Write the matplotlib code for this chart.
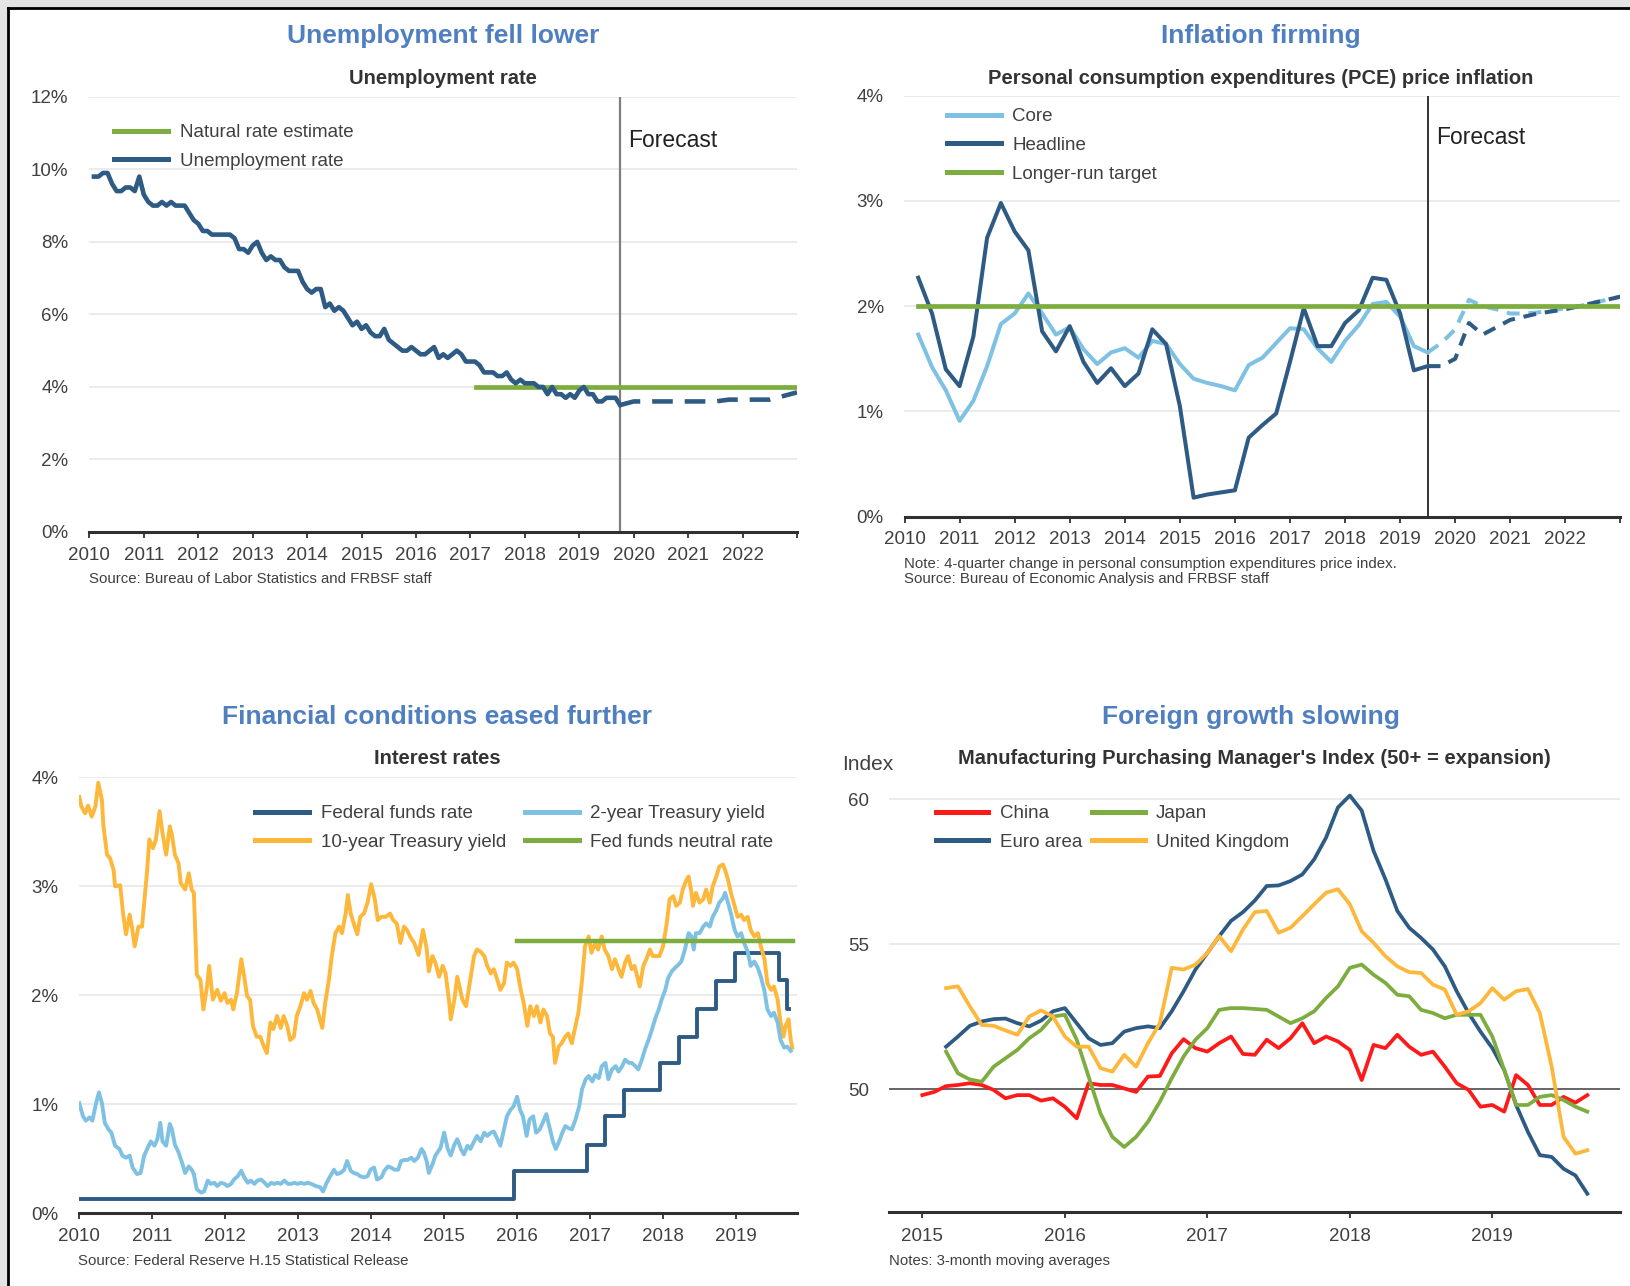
import numpy as np
import matplotlib.pyplot as plt
from matplotlib.ticker import FuncFormatter
from matplotlib.patches import Rectangle
from matplotlib.lines import Line2D

plt.rcParams['font.family'] = ['Liberation Sans', 'DejaVu Sans']

# ---------------- data ----------------
# unemployment rate, monthly Jan 2010 - Sep 2019 (%)
unemp = [9.8, 9.8, 9.9, 9.9, 9.6, 9.4, 9.4, 9.5, 9.5, 9.4, 9.8, 9.3,
         9.1, 9.0, 9.0, 9.1, 9.0, 9.1, 9.0, 9.0, 9.0, 8.8, 8.6, 8.5,
         8.3, 8.3, 8.2, 8.2, 8.2, 8.2, 8.2, 8.1, 7.8, 7.8, 7.7, 7.9,
         8.0, 7.7, 7.5, 7.6, 7.5, 7.5, 7.3, 7.2, 7.2, 7.2, 6.9, 6.7,
         6.6, 6.7, 6.7, 6.2, 6.3, 6.1, 6.2, 6.1, 5.9, 5.7, 5.8, 5.6,
         5.7, 5.5, 5.4, 5.4, 5.6, 5.3, 5.2, 5.1, 5.0, 5.0, 5.1, 5.0,
         4.9, 4.9, 5.0, 5.1, 4.8, 4.9, 4.8, 4.9, 5.0, 4.9, 4.7, 4.7,
         4.7, 4.6, 4.4, 4.4, 4.4, 4.3, 4.3, 4.4, 4.2, 4.1, 4.2, 4.1,
         4.1, 4.1, 4.0, 4.0, 3.8, 4.0, 3.8, 3.8, 3.7, 3.8, 3.7, 3.9,
         4.0, 3.8, 3.8, 3.6, 3.6, 3.7, 3.7, 3.7, 3.5]
unemp_fc_dates = [2019.75, 2020.0, 2020.25, 2020.5, 2020.75, 2021.0, 2021.25,
                  2021.5, 2021.75, 2022.0, 2022.25, 2022.5, 2022.75, 2023.0]
unemp_fc = [3.5, 3.6, 3.6, 3.6, 3.6, 3.6, 3.6, 3.6, 3.65, 3.65, 3.65, 3.65, 3.75, 3.85]
natural_rate = 4.0
natural_span = [2017.1, 2023.0]
unemp_forecast_start = 2019.74

# PCE inflation, quarterly from 2010Q2 (%)
headline = [2.27, 1.93, 1.40, 1.24, 1.71, 2.65, 2.98, 2.71, 2.53, 1.76, 1.57, 1.81,
            1.47, 1.27, 1.41, 1.24, 1.36, 1.78, 1.64, 1.05, 0.18, 0.21, 0.23, 0.25,
            0.75, 0.87, 0.98, 1.47, 1.98, 1.62, 1.62, 1.84, 1.96, 2.27, 2.25, 1.93,
            1.39, 1.43]
core = [1.73, 1.42, 1.20, 0.91, 1.10, 1.43, 1.83, 1.93, 2.12, 1.93, 1.73, 1.80,
        1.59, 1.45, 1.56, 1.60, 1.51, 1.67, 1.64, 1.45, 1.31, 1.27, 1.24, 1.20,
        1.44, 1.51, 1.65, 1.79, 1.78, 1.60, 1.47, 1.67, 1.82, 2.02, 2.04, 1.90,
        1.62, 1.56]
headline_fc = [1.43, 1.43, 1.50, 1.84, 1.73, 1.80, 1.87, 1.90, 1.93, 1.95, 1.97,
               2.00, 2.03, 2.06, 2.09]
core_fc = [1.56, 1.65, 1.78, 2.06, 2.00, 1.97, 1.93, 1.93, 1.94, 1.96, 1.98,
           2.00, 2.03, 2.06, 2.09]
pce_start = 2010.25
fc_start = 2019.5
target = 2.0

# interest rates (year, %)
t10_dates = [2010.00, 2010.03, 2010.08, 2010.12, 2010.17, 2010.22, 2010.26, 2010.31, 2010.33, 2010.38,
             2010.42, 2010.47, 2010.49, 2010.56, 2010.60, 2010.64, 2010.69, 2010.72, 2010.76, 2010.81,
             2010.86, 2010.89, 2010.93, 2010.96, 2011.01, 2011.05, 2011.10, 2011.14, 2011.19, 2011.24,
             2011.27, 2011.31, 2011.36, 2011.39, 2011.45, 2011.50, 2011.54, 2011.57, 2011.61, 2011.66,
             2011.70, 2011.75, 2011.78, 2011.83, 2011.89, 2011.94, 2011.99, 2012.03, 2012.08, 2012.11,
             2012.16, 2012.22, 2012.26, 2012.30, 2012.34, 2012.38, 2012.43, 2012.48, 2012.53, 2012.57,
             2012.62, 2012.66, 2012.71, 2012.76, 2012.80, 2012.85, 2012.89, 2012.94, 2012.98, 2013.03,
             2013.08, 2013.12, 2013.17, 2013.21, 2013.26, 2013.33, 2013.37, 2013.42, 2013.46, 2013.51,
             2013.56, 2013.60, 2013.65, 2013.68, 2013.72, 2013.76, 2013.81, 2013.85, 2013.90, 2013.95,
             2014.00, 2014.05, 2014.09, 2014.14, 2014.20, 2014.26, 2014.30, 2014.35, 2014.40, 2014.45,
             2014.49, 2014.54, 2014.59, 2014.65, 2014.71, 2014.76, 2014.79, 2014.84, 2014.88, 2014.93,
             2014.98, 2015.02, 2015.07, 2015.09, 2015.14, 2015.18, 2015.25, 2015.30, 2015.35, 2015.41,
             2015.45, 2015.50, 2015.55, 2015.59, 2015.64, 2015.68, 2015.73, 2015.77, 2015.82, 2015.86,
             2015.91, 2015.95, 2016.00, 2016.05, 2016.09, 2016.14, 2016.18, 2016.23, 2016.27, 2016.32,
             2016.36, 2016.41, 2016.45, 2016.49, 2016.52, 2016.57, 2016.61, 2016.66, 2016.70, 2016.75,
             2016.80, 2016.84, 2016.89, 2016.93, 2016.98, 2017.02, 2017.07, 2017.11, 2017.16, 2017.20,
             2017.25, 2017.30, 2017.34, 2017.39, 2017.43, 2017.48, 2017.52, 2017.57, 2017.61, 2017.68,
             2017.73, 2017.77, 2017.82, 2017.86, 2017.91, 2017.95, 2018.00, 2018.05, 2018.09, 2018.14,
             2018.18, 2018.23, 2018.27, 2018.32, 2018.35, 2018.39, 2018.41, 2018.45, 2018.50, 2018.55,
             2018.59, 2018.64, 2018.68, 2018.73, 2018.77, 2018.82, 2018.85, 2018.89, 2018.93, 2018.98,
             2019.02, 2019.07, 2019.11, 2019.16, 2019.20, 2019.25, 2019.30, 2019.34, 2019.39, 2019.43,
             2019.48, 2019.52, 2019.57, 2019.61, 2019.65, 2019.68, 2019.72, 2019.75, 2019.77]
t10 = [3.82, 3.73, 3.67, 3.74, 3.64, 3.73, 3.95, 3.79, 3.56, 3.29,
       3.26, 3.15, 3.00, 3.01, 2.75, 2.56, 2.74, 2.63, 2.45, 2.63,
       2.63, 2.85, 3.15, 3.43, 3.35, 3.43, 3.69, 3.49, 3.29, 3.55,
       3.47, 3.29, 3.21, 3.03, 2.97, 3.12, 2.97, 2.94, 2.19, 2.14,
       1.87, 2.08, 2.27, 1.96, 2.05, 1.95, 2.02, 1.93, 1.96, 1.87,
       2.02, 2.33, 2.17, 1.99, 1.96, 1.72, 1.62, 1.62, 1.53, 1.47,
       1.75, 1.69, 1.81, 1.70, 1.81, 1.72, 1.59, 1.62, 1.81, 1.90,
       2.02, 1.96, 2.04, 1.93, 1.87, 1.70, 1.93, 2.14, 2.36, 2.57,
       2.63, 2.57, 2.75, 2.92, 2.75, 2.66, 2.56, 2.72, 2.75, 2.85,
       3.02, 2.88, 2.69, 2.72, 2.72, 2.75, 2.69, 2.66, 2.48, 2.63,
       2.60, 2.53, 2.48, 2.37, 2.60, 2.43, 2.22, 2.36, 2.30, 2.17,
       2.27, 2.20, 1.93, 1.78, 1.96, 2.17, 1.96, 1.90, 2.11, 2.36,
       2.42, 2.40, 2.36, 2.27, 2.20, 2.24, 2.14, 2.05, 2.11, 2.30,
       2.27, 2.30, 2.24, 2.05, 1.93, 1.72, 1.90, 1.81, 1.90, 1.75,
       1.87, 1.81, 1.65, 1.62, 1.38, 1.53, 1.56, 1.62, 1.65, 1.56,
       1.72, 1.84, 2.14, 2.45, 2.54, 2.39, 2.48, 2.42, 2.54, 2.42,
       2.36, 2.24, 2.33, 2.24, 2.17, 2.30, 2.36, 2.24, 2.27, 2.08,
       2.27, 2.33, 2.42, 2.36, 2.36, 2.36, 2.45, 2.66, 2.88, 2.91,
       2.82, 2.85, 2.97, 3.06, 3.09, 2.94, 2.82, 2.94, 2.85, 2.88,
       2.97, 2.85, 3.00, 3.09, 3.18, 3.20, 3.15, 3.06, 2.94, 2.82,
       2.72, 2.74, 2.69, 2.72, 2.60, 2.54, 2.57, 2.45, 2.33, 2.11,
       2.05, 2.08, 1.96, 1.75, 1.62, 1.72, 1.78, 1.59, 1.52]

t2_dates = [2010.00, 2010.05, 2010.09, 2010.14, 2010.18, 2010.23, 2010.27, 2010.31, 2010.35, 2010.40,
            2010.44, 2010.49, 2010.55, 2010.59, 2010.64, 2010.69, 2010.73, 2010.79, 2010.84, 2010.89,
            2010.93, 2010.98, 2011.03, 2011.07, 2011.11, 2011.14, 2011.19, 2011.24, 2011.27, 2011.31,
            2011.36, 2011.41, 2011.45, 2011.50, 2011.54, 2011.57, 2011.61, 2011.67, 2011.71, 2011.76,
            2011.80, 2011.85, 2011.89, 2011.94, 2011.99, 2012.03, 2012.08, 2012.12, 2012.17, 2012.22,
            2012.26, 2012.31, 2012.35, 2012.40, 2012.44, 2012.49, 2012.54, 2012.58, 2012.63, 2012.67,
            2012.72, 2012.76, 2012.81, 2012.86, 2012.90, 2012.95, 2012.99, 2013.04, 2013.08, 2013.13,
            2013.18, 2013.24, 2013.30, 2013.34, 2013.39, 2013.43, 2013.49, 2013.53, 2013.58, 2013.63,
            2013.67, 2013.72, 2013.76, 2013.81, 2013.85, 2013.90, 2013.95, 2013.99, 2014.04, 2014.08,
            2014.14, 2014.18, 2014.23, 2014.27, 2014.32, 2014.37, 2014.41, 2014.46, 2014.50, 2014.55,
            2014.59, 2014.64, 2014.69, 2014.72, 2014.76, 2014.79, 2014.84, 2014.88, 2014.95, 2015.00,
            2015.05, 2015.09, 2015.14, 2015.18, 2015.23, 2015.27, 2015.32, 2015.36, 2015.41, 2015.45,
            2015.50, 2015.55, 2015.59, 2015.64, 2015.68, 2015.73, 2015.77, 2015.82, 2015.86, 2015.91,
            2015.95, 2016.00, 2016.04, 2016.08, 2016.13, 2016.17, 2016.22, 2016.26, 2016.31, 2016.35,
            2016.40, 2016.45, 2016.49, 2016.53, 2016.57, 2016.62, 2016.66, 2016.71, 2016.75, 2016.80,
            2016.85, 2016.89, 2016.94, 2016.98, 2017.03, 2017.07, 2017.12, 2017.16, 2017.21, 2017.25,
            2017.30, 2017.35, 2017.39, 2017.44, 2017.48, 2017.53, 2017.57, 2017.62, 2017.66, 2017.71,
            2017.75, 2017.80, 2017.85, 2017.89, 2017.94, 2017.98, 2018.03, 2018.07, 2018.12, 2018.16,
            2018.21, 2018.25, 2018.30, 2018.35, 2018.39, 2018.42, 2018.45, 2018.50, 2018.55, 2018.59,
            2018.64, 2018.68, 2018.73, 2018.77, 2018.82, 2018.85, 2018.89, 2018.93, 2018.98, 2019.02,
            2019.07, 2019.11, 2019.16, 2019.20, 2019.25, 2019.30, 2019.34, 2019.39, 2019.43, 2019.48,
            2019.52, 2019.57, 2019.61, 2019.66, 2019.70, 2019.75]
t2 = [1.01, 0.89, 0.85, 0.88, 0.85, 1.01, 1.11, 1.01, 0.83, 0.77,
      0.74, 0.62, 0.59, 0.53, 0.51, 0.53, 0.42, 0.36, 0.37, 0.53,
      0.59, 0.66, 0.62, 0.68, 0.83, 0.66, 0.62, 0.82, 0.77, 0.63,
      0.56, 0.46, 0.37, 0.43, 0.40, 0.36, 0.22, 0.19, 0.20, 0.30,
      0.27, 0.28, 0.25, 0.28, 0.27, 0.25, 0.27, 0.31, 0.34, 0.39,
      0.33, 0.28, 0.30, 0.27, 0.30, 0.31, 0.28, 0.25, 0.28, 0.27,
      0.28, 0.27, 0.30, 0.27, 0.27, 0.28, 0.27, 0.28, 0.27, 0.28,
      0.27, 0.25, 0.24, 0.20, 0.28, 0.33, 0.40, 0.36, 0.37, 0.40,
      0.48, 0.39, 0.37, 0.36, 0.34, 0.33, 0.34, 0.40, 0.42, 0.31,
      0.33, 0.39, 0.43, 0.42, 0.40, 0.40, 0.48, 0.49, 0.49, 0.51,
      0.48, 0.51, 0.59, 0.56, 0.48, 0.37, 0.45, 0.53, 0.60, 0.74,
      0.59, 0.53, 0.63, 0.68, 0.59, 0.54, 0.62, 0.59, 0.66, 0.71,
      0.66, 0.74, 0.71, 0.74, 0.75, 0.68, 0.62, 0.77, 0.89, 0.95,
      0.98, 1.07, 0.95, 0.89, 0.71, 0.86, 0.89, 0.74, 0.77, 0.83,
      0.91, 0.77, 0.66, 0.59, 0.65, 0.74, 0.80, 0.78, 0.77, 0.86,
      0.98, 1.14, 1.23, 1.26, 1.21, 1.27, 1.24, 1.35, 1.38, 1.23,
      1.32, 1.35, 1.30, 1.35, 1.41, 1.38, 1.38, 1.35, 1.32, 1.41,
      1.50, 1.59, 1.69, 1.78, 1.87, 1.96, 2.05, 2.16, 2.22, 2.25,
      2.28, 2.31, 2.42, 2.57, 2.54, 2.42, 2.57, 2.57, 2.63, 2.66,
      2.63, 2.72, 2.78, 2.85, 2.89, 2.94, 2.85, 2.75, 2.60, 2.54,
      2.57, 2.48, 2.40, 2.27, 2.31, 2.25, 2.17, 2.04, 1.87, 1.81,
      1.84, 1.75, 1.59, 1.52, 1.53, 1.49]

ff_dates = [2010.0, 2015.96, 2016.96, 2017.21, 2017.46, 2017.96, 2018.22, 2018.47,
            2018.73, 2018.98, 2019.59, 2019.70, 2019.72]
ff = [0.13, 0.39, 0.63, 0.89, 1.13, 1.38, 1.62, 1.87, 2.13, 2.39, 2.14, 1.87, 1.87]
neutral = 2.5
neutral_span = [2016.0, 2019.78]

# manufacturing PMI, 3-month moving averages, monthly
china = [49.79, 49.90, 50.10, 50.14, 50.20, 50.14, 49.97, 49.68, 49.79, 49.79, 49.60, 49.68,
         49.39, 48.99, 50.20, 50.14, 50.14, 50.02, 49.90, 50.43, 50.45, 51.23, 51.72, 51.41,
         51.29, 51.58, 51.81, 51.21, 51.18, 51.70, 51.41, 51.75, 52.27, 51.58, 51.81, 51.64,
         51.35, 50.31, 51.52, 51.41, 51.87, 51.46, 51.18, 51.29, 50.77, 50.20, 49.97, 49.39,
         49.45, 49.22, 50.48, 50.14, 49.45, 49.45, 49.73, 49.53, 49.79]   # Jan 2015 - Sep 2019
euro = [51.46, 51.81, 52.18, 52.33, 52.41, 52.43, 52.27, 52.16, 52.36, 52.68,
        52.79, 52.27, 51.75, 51.52, 51.58, 51.98, 52.10, 52.16, 52.10, 52.68,
        53.37, 54.12, 54.69, 55.27, 55.80, 56.10, 56.50, 57.00, 57.02, 57.17,
        57.40, 57.92, 58.67, 59.71, 60.12, 59.60, 58.21, 57.23, 56.14, 55.56,
        55.21, 54.81, 54.23, 53.37, 52.62, 51.98, 51.41, 50.66, 49.45, 48.52,
        47.72, 47.66, 47.25, 47.02, 46.39]   # Mar 2015 - Sep 2019
japan = [51.29, 50.54, 50.33, 50.25, 50.77, 51.06, 51.35, 51.75, 52.04, 52.50,
         52.56, 51.70, 50.43, 49.16, 48.35, 48.00, 48.35, 48.87, 49.56, 50.37,
         51.12, 51.70, 52.10, 52.73, 52.79, 52.79, 52.76, 52.73, 52.50, 52.27,
         52.44, 52.68, 53.14, 53.54, 54.18, 54.29, 53.94, 53.66, 53.25, 53.20,
         52.73, 52.62, 52.44, 52.56, 52.56, 52.56, 51.81, 50.66, 49.45, 49.45,
         49.73, 49.79, 49.62, 49.39, 49.22]
uk = [53.48, 53.54, 52.85, 52.21, 52.18, 52.02, 51.87, 52.50, 52.71, 52.50,
      51.81, 51.46, 51.46, 50.72, 50.60, 51.18, 50.77, 51.58, 52.27, 54.18,
      54.12, 54.29, 54.69, 55.27, 54.75, 55.50, 56.10, 56.14, 55.39, 55.56,
      55.96, 56.37, 56.77, 56.89, 56.37, 55.44, 55.04, 54.58, 54.23, 54.03,
      54.00, 53.60, 53.43, 52.56, 52.68, 52.96, 53.48, 53.08, 53.37, 53.45,
      52.62, 50.77, 48.35, 47.77, 47.89]

# ---------------- style ----------------
TITLE = '#4F7FC0'
DARK = '#2E5B84'
LIGHT = '#7EC1E3'
GREEN = '#7DAD3F'
ORANGE = '#FDB73A'
RED = '#FF1A1A'
GREY = '#404040'

W, H = 1631, 1286
fig = plt.figure(figsize=(W / 100, H / 100), dpi=100)
fig.patch.set_facecolor('#E4E4E4')
fig.add_artist(Rectangle((8 / W, 0), 1, 1 - 8 / H, transform=fig.transFigure,
                         facecolor='white', edgecolor='none', zorder=-10))
fig.add_artist(Line2D([8 / W, 8 / W], [0, 1 - 8 / H], transform=fig.transFigure, color='black', lw=2))
fig.add_artist(Line2D([8 / W, 1], [1 - 8 / H, 1 - 8 / H], transform=fig.transFigure, color='black', lw=2))


def px_axes(x0, ytop, x1, ybot):
    return fig.add_axes([x0 / W, 1 - ybot / H, (x1 - x0) / W, (ybot - ytop) / H])


def ftext(x, y, s, **kw):
    fig.text(x / W, 1 - y / H, s, **kw)


def style(ax, xlim, ylim, yticks, fmt, ypad=15, xpad=6.7):
    ax.set_xlim(*xlim)
    ax.set_ylim(*ylim)
    for s in ['top', 'right', 'left']:
        ax.spines[s].set_visible(False)
    ax.spines['bottom'].set_color('#303030')
    ax.spines['bottom'].set_linewidth(2.2)
    ax.set_yticks(yticks)
    ax.yaxis.set_major_formatter(FuncFormatter(fmt))
    ax.tick_params(axis='y', length=0, pad=ypad, labelsize=13.5, labelcolor=GREY)
    ax.tick_params(axis='x', length=4, width=1.3, color='#303030', pad=xpad,
                   labelsize=13.5, labelcolor=GREY)
    ax.grid(axis='y', color='#E9E9E9', lw=1.3)
    ax.set_axisbelow(True)
    ax.patch.set_alpha(0)


def legend(ax, x, y, ncol=1, colsp=1.0, hl=2.9, handles=None, labels=None):
    if handles is None:
        handles, labels = ax.get_legend_handles_labels()
    leg = ax.legend(handles, labels, loc='upper left', bbox_to_anchor=(x / W, 1 - y / H),
                    bbox_transform=fig.transFigure, frameon=False, fontsize=13.5, ncol=ncol,
                    columnspacing=colsp, handlelength=hl, handletextpad=0.6, labelspacing=0.62,
                    borderpad=0, borderaxespad=0)
    for t in leg.get_texts():
        t.set_color(GREY)
    for ln in leg.get_lines():
        ln.set_linewidth(3.6)
    return leg


pct = lambda v, _: f'{v:.0f}%'
years_a = list(range(2010, 2024))
labels_a = [str(y) if y < 2023 else '' for y in years_a]

# ---------- panel 1: unemployment ----------
ax1 = px_axes(89.4, 96.8, 797, 532)
style(ax1, (2010, 2023), (0, 12), range(0, 13, 2), pct)
ax1.set_xticks(years_a)
ax1.set_xticklabels(labels_a)
ux = 2010 + (np.arange(len(unemp)) + 1) / 12
ax1.plot(natural_span, [natural_rate] * 2, color=GREEN, lw=3.4, label='Natural rate estimate', zorder=3)
ax1.plot(ux, unemp, color=DARK, lw=3.3, label='Unemployment rate', zorder=4)
ax1.plot(unemp_fc_dates, unemp_fc, color=DARK, lw=3.3, dashes=(4.5, 2.6), zorder=4)
ax1.axvline(unemp_forecast_start, color='#7F7F7F', lw=1.6, zorder=2)
ax1.text(2019.9, 10.8, 'Forecast', fontsize=16.5, color='#222222', va='center')
legend(ax1, 114, 124)

# ---------- panel 2: PCE inflation ----------
ax2 = px_axes(904.5, 95.7, 1620.4, 516.6)
style(ax2, (2010, 2023), (0, 4), range(0, 5), pct)
ax2.set_xticks(years_a)
ax2.set_xticklabels(labels_a)
qx = pce_start + 0.25 * np.arange(len(core))
fx = fc_start + 0.25 * np.arange(len(core_fc))
ax2.plot(qx, core, color=LIGHT, lw=2.9, label='Core', zorder=3)
ax2.plot(qx, headline, color=DARK, lw=2.9, label='Headline', zorder=4)
ax2.plot(fx, core_fc, color=LIGHT, lw=2.9, dashes=(3.2, 2.2), zorder=3)
ax2.plot(fx, headline_fc, color=DARK, lw=2.9, dashes=(3.2, 2.2), zorder=4)
ax2.plot([pce_start, 2023], [target] * 2, color=GREEN, lw=3.4, label='Longer-run target', zorder=5)
ax2.axvline(fc_start, color='#111111', lw=1.2, zorder=2)
ax2.text(2019.66, 3.6, 'Forecast', fontsize=16.5, color='#222222', va='center')
legend(ax2, 946.6, 108)

# ---------- panel 3: interest rates ----------
ax3 = px_axes(79.3, 777.3, 796.6, 1213.3)
style(ax3, (2010, 2019.83), (0, 4), range(0, 5), pct)
ax3.set_xticks(range(2010, 2020))
ax3.step(ff_dates, ff, where='post', color=DARK, lw=2.8, label='Federal funds rate', zorder=3)
ax3.plot(t10_dates, t10, color=ORANGE, lw=2.8, label='10-year Treasury yield', zorder=4)
ax3.plot(t2_dates, t2, color=LIGHT, lw=2.8, label='2-year Treasury yield', zorder=5)
ax3.plot(neutral_span, [neutral] * 2, color=GREEN, lw=3.2, label='Fed funds neutral rate', zorder=6)
legend(ax3, 255, 805, ncol=2, colsp=1.0)

# ---------- panel 4: PMI ----------
ax4 = px_axes(889, 790.3, 1620, 1212)
style(ax4, (2014.766, 2019.896), (45.76, 60.3), [50, 55, 60], lambda v, _: f'{v:.0f}',
      ypad=14.5, xpad=7.5)
ax4.set_xticks(range(2015, 2020))
ax4.axhline(50, color='#505050', lw=1.2, zorder=1)
cx = 2015 + np.arange(len(china)) / 12
ox = 2015 + (np.arange(len(euro)) + 2) / 12
ax4.plot(cx, china, color=RED, lw=2.7, label='China', zorder=3)
ax4.plot(ox, euro, color=DARK, lw=2.7, label='Euro area', zorder=4)
ax4.plot(ox, japan, color=GREEN, lw=2.7, label='Japan', zorder=5)
ax4.plot(ox, uk, color=ORANGE, lw=2.7, label='United Kingdom', zorder=6)
legend(ax4, 936, 805, ncol=2, colsp=0.55, hl=2.8)

# ---------- titles & notes ----------
tkw = dict(ha='center', va='center', fontsize=19, fontweight='bold', color=TITLE)
ftext(443, 36, 'Unemployment fell lower', **tkw)
ftext(1261, 36, 'Inflation firming', **tkw)
ftext(437, 717, 'Financial conditions eased further', **tkw)
ftext(1251, 717, 'Foreign growth slowing', **tkw)

skw = dict(ha='center', va='center', fontsize=14.5, fontweight='bold', color='#333333')
ftext(443, 78, 'Unemployment rate', **skw)
ftext(1261, 78, 'Personal consumption expenditures (PCE) price inflation', **skw)
ftext(437, 759, 'Interest rates', **skw)
ftext(1254, 759, "Manufacturing Purchasing Manager's Index (50+ = expansion)", **skw)

ftext(842, 765, 'Index', ha='left', va='center', fontsize=15, color=GREY)

nkw = dict(ha='left', va='center', fontsize=10.8, color=GREY)
ftext(89.5, 579, 'Source: Bureau of Labor Statistics and FRBSF staff', **nkw)
ftext(904, 564, 'Note: 4-quarter change in personal consumption expenditures price index.', **nkw)
ftext(904, 579.5, 'Source: Bureau of Economic Analysis and FRBSF staff', **nkw)
ftext(78, 1261, 'Source: Federal Reserve H.15 Statistical Release', **nkw)
ftext(889, 1261, 'Notes: 3-month moving averages', **nkw)

fig.savefig('out.png', dpi=100, facecolor=fig.get_facecolor())
